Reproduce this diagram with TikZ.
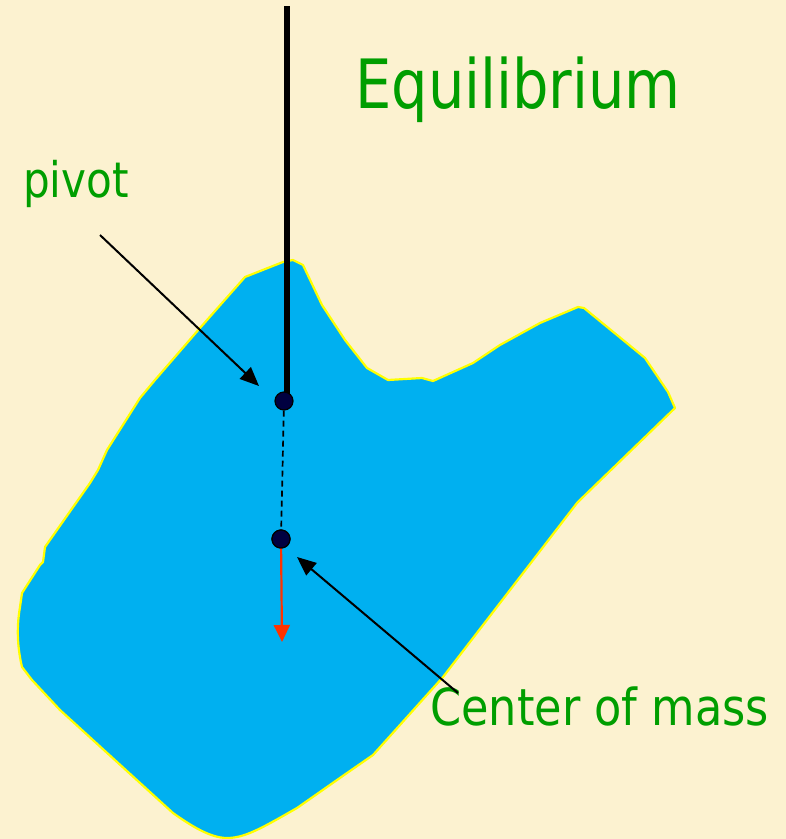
\documentclass[tikz,border=0pt]{standalone}
\usepackage{fontspec}
\newfontfamily\lblfont{DejaVu Sans}
\usetikzlibrary{arrows.meta}
\definecolor{bgcream}{RGB}{252,242,208}
\definecolor{blobblue}{RGB}{0,176,240}
\definecolor{edgeyellow}{RGB}{255,255,0}
\definecolor{lblgreen}{RGB}{0,158,0}
\definecolor{dotnavy}{RGB}{0,0,64}
\definecolor{gravred}{RGB}{255,51,0}
\tikzset{
  blob/.style={fill=blobblue,draw=edgeyellow,line width=2.2pt,line join=round},
  rod/.style={line width=6.5pt,black},
  dotnode/.style={circle,fill=dotnavy,draw=black,line width=1.2pt,minimum size=18pt,inner sep=0pt},
  pointer/.style={line width=2pt,black,-{Triangle[length=19pt,width=16pt]}},
  gravity/.style={line width=2.2pt,gravred,-{Triangle[length=17pt,width=16pt]}},
  dashline/.style={line width=1.7pt,black,dash pattern=on 6pt off 4pt},
  greenlbl/.style={inner sep=0pt,text=lblgreen,anchor=base west}
}
\begin{document}
\begin{tikzpicture}[x=1pt,y=-1pt]
\useasboundingbox (0,0) rectangle (786,839);
\fill[bgcream] (0,0) rectangle (786,839);
% body
\draw[blob] (293,260) -- (303,265) -- (322,305) -- (345,340) -- (367,368) -- (388,380)
  -- (422,378) -- (433,381) -- (473,363) -- (500,345) -- (540,323) -- (578,307)
  -- (584,308) -- (645,358) -- (668,392) -- (675,408) -- (582,498) -- (577,503)
  -- (443,677) -- (373,755) -- (347,773) -- (297,808)
  .. controls (262,828) and (245,838) .. (227,838)
  .. controls (210,838) and (190,825) .. (173,813)
  -- (60,710) -- (32,680) -- (22,667)
  .. controls (18,650) and (16,630) .. (20,607)
  -- (22,593) -- (40,565) -- (43,562) -- (45,547) -- (90,483) -- (98,470)
  -- (107,450) -- (140,398) -- (155,380) -- (200,328) -- (245,277) -- (283,262) -- cycle;
% rod
\coordinate (rodtop) at (287,6);
\coordinate (rodbot) at (287,396);
\draw[rod] (rodtop) -- (rodbot);
% dots
\node[dotnode] (piv) at (284,401) {};
\node[dotnode] (com) at (281,539) {};
\draw[dashline] (piv) -- (com);
\coordinate (gtip) at (282,642);
\draw[gravity] (com.center) -- (gtip);
\node[dotnode] at (com) {};
% labels
\node[greenlbl] (title) at (355,108) {\lblfont\fontsize{68}{80}\selectfont\scalebox{0.845}[1]{Equilibrium}};
\node[greenlbl] (pivlbl) at (23,197) {\lblfont\fontsize{49}{58}\selectfont\scalebox{0.86}[1]{pivot}};
\node[greenlbl] (comlbl) at (430,725) {\lblfont\fontsize{51}{60}\selectfont\scalebox{0.875}[1]{Center of mass}};
% pointers
\coordinate (pstart) at (100,235);
\coordinate (pend) at (259,386);
\draw[pointer] (pstart) -- (pend);
\coordinate (cstart) at (458,693);
\coordinate (cend) at (297,557);
\draw[pointer] (cstart) -- (cend);
\end{tikzpicture}
\end{document}
